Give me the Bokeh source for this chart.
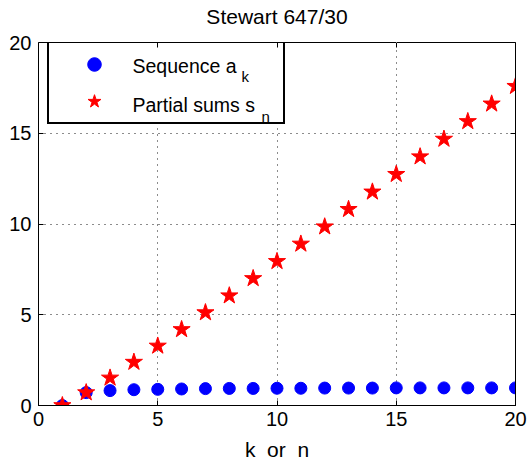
from bokeh.plotting import figure
from bokeh.models import Range1d, FixedTicker, LinearAxis, Legend, LegendItem, Label, BoxAnnotation
from bokeh.embed import file_html
from bokeh.resources import INLINE

k = list(range(1, 21))
seq_a = [0.0, 0.71, 0.82, 0.87, 0.89, 0.91, 0.93, 0.94, 0.94, 0.95,
         0.95, 0.96, 0.96, 0.96, 0.97, 0.97, 0.97, 0.97, 0.97, 0.97]
sums_s = [0.0, 0.71, 1.52, 2.39, 3.28, 4.19, 5.12, 6.05, 7.00, 7.94,
          8.90, 9.85, 10.81, 11.77, 12.74, 13.71, 14.68, 15.65, 16.62, 17.59]
ticks = [0, 5, 10, 15, 20]
title_text = "Stewart 647/30"
xlabel = "k\u00a0 or\u00a0 n"

FONT = "Liberation Sans"
FS = "21px"

p = figure(width=528, height=463, output_backend="svg", toolbar_location=None,
           x_range=Range1d(0, 20), y_range=Range1d(0, 20),
           min_border_left=38, min_border_right=13, min_border_top=40, min_border_bottom=56,
           title=title_text)

p.title.text_font = FONT
p.title.text_font_size = FS
p.title.text_font_style = "normal"
p.title.align = "center"
p.title.text_color = "black"
p.title.standoff = 4

p.outline_line_color = "black"
p.outline_line_width = 1
p.outline_line_alpha = 1

for ax in p.xaxis + p.yaxis:
    ax.ticker = FixedTicker(ticks=ticks)
    ax.major_tick_in = 5
    ax.major_tick_out = 0
    ax.minor_tick_line_color = None
    ax.axis_line_color = "black"
    ax.major_tick_line_color = "black"
    ax.major_label_text_font = FONT
    ax.major_label_text_font_size = "20px"
    ax.major_label_text_color = "black"

p.xaxis.major_label_standoff = 6
p.yaxis.major_label_standoff = 7
p.xaxis.axis_label = xlabel
p.xaxis.axis_label_text_font = FONT
p.xaxis.axis_label_text_font_size = FS
p.xaxis.axis_label_text_font_style = "normal"
p.xaxis.axis_label_text_color = "black"
p.xaxis.axis_label_standoff = 9

# box ticks on the right and top (no labels)
for loc in ("right", "above"):
    ax = LinearAxis(ticker=FixedTicker(ticks=ticks), major_tick_in=5, major_tick_out=0,
                    minor_tick_line_color=None, major_label_text_font_size="1px",
                    major_label_text_color=None, major_label_standoff=0,
                    axis_line_color="black", major_tick_line_color="black")
    p.add_layout(ax, loc)

# invisible spacer between the frame and the title
spacer = LinearAxis(ticker=FixedTicker(ticks=ticks), major_tick_in=0, major_tick_out=13,
                    minor_tick_line_color=None, major_label_text_font_size="1px",
                    major_label_text_color=None, major_label_standoff=0,
                    axis_line_color=None, major_tick_line_color="white")
p.add_layout(spacer, "above")

p.grid.ticker = FixedTicker(ticks=ticks)
p.grid.grid_line_color = "black"
p.grid.grid_line_dash = "1 5"
p.grid.grid_line_alpha = 0.9

# white backing for the legend box (hides the grid behind it)
p.add_layout(BoxAnnotation(left=9, right=243, bottom=281, top=360,
                           left_units="screen", right_units="screen",
                           bottom_units="screen", top_units="screen",
                           fill_color="white", fill_alpha=1, line_color=None,
                           level="underlay"))

r1 = p.scatter(k, seq_a, marker="circle", size=12, fill_color="blue", line_color="blue")
r2 = p.scatter(k, sums_s, marker="star", size=18, fill_color="red", line_color="red")

legend = Legend(items=[LegendItem(label=" ", renderers=[r1]),
                       LegendItem(label=" ", renderers=[r2])],
                location=(9, 281), padding=4, spacing=3, margin=0,
                glyph_width=82, glyph_height=34, label_height=34, label_width=143,
                label_standoff=1, border_line_color="black", border_line_width=2,
                border_line_alpha=1,
                background_fill_color="white", background_fill_alpha=0,
                label_text_font_size="20px")
p.add_layout(legend, "center")

leg_texts = [("Sequence a", 94, 340, "19.5px"), ("k", 203, 329, "15px"),
             ("Partial sums s", 94, 301, "19.5px"), ("n", 223, 289, "15px")]
for txt, x, y, fs in leg_texts:
    p.add_layout(Label(x=x, y=y, x_units="screen", y_units="screen", text=txt,
                       text_font=FONT, text_font_size=fs, text_baseline="alphabetic",
                       text_color="black", level="overlay"))

open("out.html", "w").write(file_html(p, INLINE))
